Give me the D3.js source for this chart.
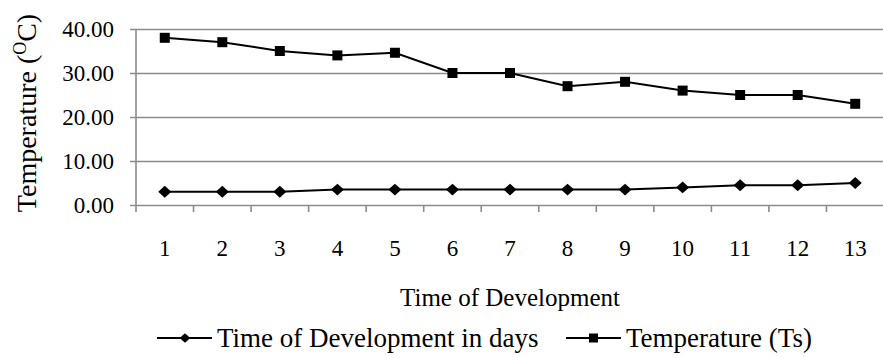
<!DOCTYPE html>
<html>
<head>
<meta charset="utf-8">
<script src="https://cdn.jsdelivr.net/npm/d3@7"></script>
<style>
  html, body { margin: 0; padding: 0; background: #fff; }
  svg { display: block; }
</style>
</head>
<body>
<svg id="chart" width="883" height="358" fill="#000"></svg>
<script>
// Days of development (category axis)
const days = ["1", "2", "3", "4", "5", "6", "7", "8", "9", "10", "11", "12", "13"];
// Time of Development in days
const developmentDays = [3, 3, 3, 3.5, 3.5, 3.5, 3.5, 3.5, 3.5, 4, 4.5, 4.5, 5];
// Temperature (Ts), °C
const temperature = [38, 37, 35, 34, 34.6, 30, 30, 27, 28, 26, 25, 25, 23];
// Value axis ticks
const yTicks = [0, 10, 20, 30, 40];

const FONT = "'Liberation Serif', 'DejaVu Serif', 'Noto Serif', FreeSerif, 'Nimbus Roman', Times, serif";
const svg = d3.select("#chart").style("font-family", FONT);
const plot = { left: 136, right: 884, top: 29, bottom: 205 };

const x = d3.scaleBand().domain(days).range([plot.left, plot.right]);
const y = d3.scaleLinear().domain([0, 40]).range([plot.bottom, plot.top]);
const gridColor = "#8c8c8c";

// horizontal gridlines with short outer ticks
const yAxis = d3.axisLeft(y).tickValues(yTicks).tickSize(-(plot.right - plot.left)).tickSizeOuter(0)
  .tickFormat(d3.format(".2f")).tickPadding(22);
const gy = svg.append("g").attr("transform", `translate(${plot.left},0)`).call(yAxis);
gy.attr("font-family", null).style("font-family", FONT);
gy.select(".domain").remove();
gy.selectAll(".tick line").attr("stroke", gridColor).attr("stroke-width", 1.6).attr("x1", -6);
gy.selectAll(".tick text").style("font-family", FONT).style("font-size", "23px").attr("fill", "#000");

// vertical value axis line
svg.append("line").attr("x1", plot.left).attr("x2", plot.left).attr("y1", plot.top).attr("y2", plot.bottom)
  .attr("stroke", gridColor).attr("stroke-width", 1.6);

// category axis: ticks sit between categories
const xAxis = d3.axisBottom(x).tickSize(0).tickPadding(35);
const gx = svg.append("g").attr("transform", `translate(0,${plot.bottom})`).call(xAxis);
gx.attr("font-family", null).style("font-family", FONT);
gx.select(".domain").remove();
gx.selectAll(".tick text").style("font-family", FONT).style("font-size", "23px").attr("fill", "#000");
const boundaries = days.map(d => x(d)).concat([x(days[days.length - 1]) + x.bandwidth()]);
svg.append("g").selectAll("line").data(boundaries).join("line")
  .attr("x1", d => d).attr("x2", d => d).attr("y1", plot.bottom).attr("y2", plot.bottom + 7)
  .attr("stroke", gridColor).attr("stroke-width", 1.6);

const cx = d => x(d) + x.bandwidth() / 2;
const line = d3.line().x((v, i) => cx(days[i])).y(v => y(v));

// Temperature series (squares)
svg.append("path").datum(temperature).attr("d", line)
  .attr("fill", "none").attr("stroke", "#000").attr("stroke-width", 2);
svg.append("g").selectAll("rect").data(temperature).join("rect")
  .attr("x", (v, i) => cx(days[i]) - 5).attr("y", v => y(v) - 5)
  .attr("width", 10).attr("height", 10).attr("fill", "#000");

// Development time series (diamonds)
svg.append("path").datum(developmentDays).attr("d", line)
  .attr("fill", "none").attr("stroke", "#000").attr("stroke-width", 2);
const diamond = d3.symbol().type(d3.symbolDiamond2).size(90);
svg.append("g").selectAll("path").data(developmentDays).join("path")
  .attr("d", diamond)
  .attr("transform", (v, i) => `translate(${cx(days[i])},${y(v)}) scale(1.1,1)`)
  .attr("fill", "#000");

// axis titles
svg.append("text").attr("x", (plot.left + plot.right) / 2).attr("y", 306).attr("text-anchor", "middle")
  .style("font-family", FONT).style("font-size", "25px").text("Time of Development");

const yTitle = svg.append("text").attr("transform", `translate(36,${(plot.top + plot.bottom) / 2 - 4}) rotate(-90)`)
  .attr("text-anchor", "middle").style("font-family", FONT).style("font-size", "28px");
yTitle.append("tspan").text("Temperature (");
yTitle.append("tspan").attr("dy", -10).style("font-size", "18px").text("O");
yTitle.append("tspan").attr("dy", 10).text("C)");

// legend
const legend = [
  { name: "Time of Development in days", x: 157, shape: "diamond" },
  { name: "Temperature (Ts)", x: 566, shape: "square" }
];
const ly = 338;
legend.forEach(item => {
  const g = svg.append("g");
  g.append("line").attr("x1", item.x).attr("x2", item.x + 55).attr("y1", ly).attr("y2", ly)
    .attr("stroke", "#000").attr("stroke-width", 2);
  if (item.shape === "diamond") {
    g.append("path").attr("d", diamond).attr("transform", `translate(${item.x + 28},${ly}) scale(0.9,0.8)`);
  } else {
    g.append("rect").attr("x", item.x + 23).attr("y", ly - 4.5).attr("width", 9).attr("height", 9);
  }
  g.append("text").attr("x", item.x + 60).attr("y", ly + 9)
    .style("font-family", FONT).style("font-size", "27px").text(item.name);
});
</script>
</body>
</html>
